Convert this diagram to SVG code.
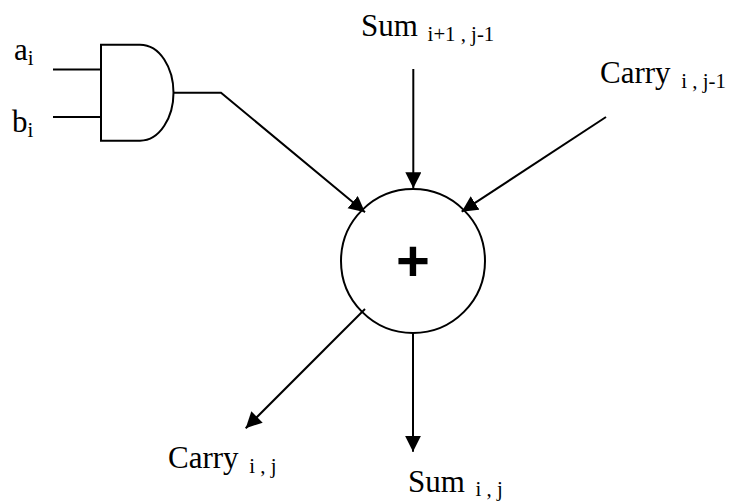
<svg xmlns="http://www.w3.org/2000/svg" width="730" height="502" viewBox="0 0 730 502">
<style>
text{font-family:"Liberation Serif","Times New Roman",serif;fill:#000}
.m{font-size:31px}
.s{font-size:20.8px}
.w{fill:none;stroke:#000;stroke-width:2}
.plus{font-family:"Liberation Sans",Arial,sans-serif;font-weight:700;font-size:58px;text-anchor:middle}
</style>
<defs>
<marker id="arr" markerUnits="userSpaceOnUse" markerWidth="20" markerHeight="20" refX="16" refY="8" orient="auto">
<path d="M0 0L16 8L0 16Z" fill="#000"/>
</marker>
</defs>
<rect width="730" height="502" fill="#fff"/>
<g id="connectors">
<path class="w" d="M53 69.500H101M53 117H101"/>
<path class="w" d="M174 92.700H221L365 212.300" marker-end="url(#arr)"/>
<path class="w" d="M413.300 69V188.300" marker-end="url(#arr)"/>
<path class="w" d="M606 117L461.700 211.700" marker-end="url(#arr)"/>
<path class="w" d="M365 309L245.700 428.300" marker-end="url(#arr)"/>
<path class="w" d="M413 333V451.700" marker-end="url(#arr)"/>
</g>
<g id="and-gate">
<path class="w" d="M101 44.700H140C160 44.700 173.500 68 173.500 92.700C173.500 117 160 140.700 140 140.700H101Z" fill="#fff"/>
</g>
<g id="adder">
<circle class="w" cx="413" cy="261" r="72" fill="none"/>
<text class="plus" x="413" y="281">+</text>
</g>
<g id="label-a"><text x="14" y="60" class="m">a<tspan class="s" dy="4.500">i</tspan></text></g>
<g id="label-b"><text x="12" y="131.500" class="m">b<tspan class="s" dy="5">i</tspan></text></g>
<g id="label-sum-in"><text x="361" y="36" class="m">Sum <tspan class="s" dx="2" dy="4.700">i+1 , j-1</tspan></text></g>
<g id="label-carry-in"><text x="600" y="83" class="m">Carry <tspan class="s" dx="3" dy="4.700">i , j-1</tspan></text></g>
<g id="label-carry-out"><text x="168" y="468" class="m">Carry <tspan class="s" dx="3" dy="4.700">i , j</tspan></text></g>
<g id="label-sum-out"><text x="408" y="491.500" class="m">Sum <tspan class="s" dx="3" dy="4.700">i , j</tspan></text></g>
</svg>
